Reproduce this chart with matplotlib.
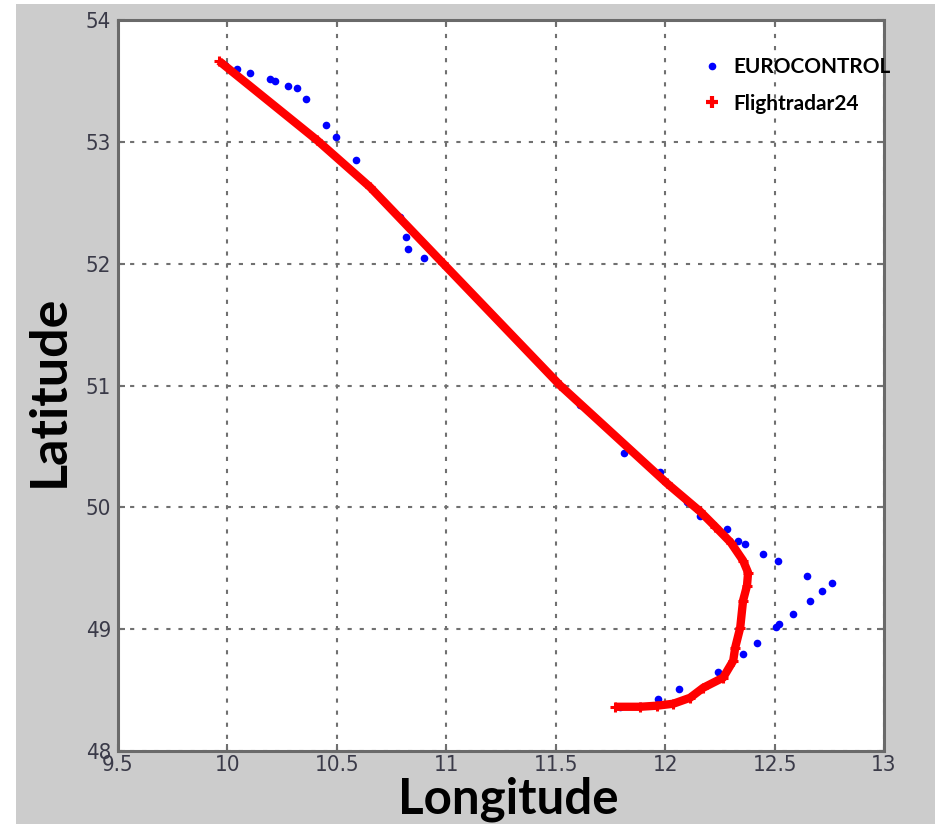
import matplotlib
matplotlib.use("Agg")
import matplotlib.pyplot as plt
from matplotlib.lines import Line2D
from matplotlib.patches import Rectangle

# ---- data ----
euro_lon = [9.99, 10.044, 10.103, 10.195, 10.218, 10.277, 10.318, 10.359, 10.451, 10.496,
            10.588, 10.789, 10.816, 10.825, 10.899, 11.611, 11.813, 11.977, 12.10, 12.16,
            12.283, 12.334, 12.366, 12.448, 12.516, 12.649, 12.763, 12.717, 12.663, 12.585,
            12.521, 12.507, 12.42, 12.356, 12.242, 12.064, 11.968, 11.886, 11.794]
euro_lat = [53.63, 53.597, 53.565, 53.515, 53.499, 53.458, 53.441, 53.351, 53.137, 53.039,
            52.850, 52.381, 52.217, 52.118, 52.044, 50.836, 50.45, 50.286, 50.04, 49.93,
            49.826, 49.727, 49.703, 49.62, 49.563, 49.44, 49.382, 49.316, 49.234, 49.127,
            49.045, 49.021, 48.889, 48.799, 48.651, 48.511, 48.429, 48.371, 48.363]

fr24_lon = [9.962, 10.409, 10.652, 10.985, 11.520, 12.009, 12.160, 12.230, 12.300, 12.356,
            12.379, 12.374, 12.356, 12.343, 12.320, 12.311, 12.265, 12.174, 12.114, 12.037,
            11.963, 11.886, 11.771]
fr24_lat = [53.663, 53.014, 52.628, 52.003, 51.001, 50.196, 49.966, 49.840, 49.711, 49.563,
            49.464, 49.357, 49.234, 49.012, 48.848, 48.741, 48.602, 48.519, 48.437, 48.388,
            48.372, 48.363, 48.363]

x_ticks = [9.5, 10, 10.5, 11, 11.5, 12, 12.5, 13]
x_ticklabels = ["9.5", "10", "10.5", "11", "11.5", "12", "12.5", "13"]
y_ticks = [48, 49, 50, 51, 52, 53, 54]
y_ticklabels = ["48", "49", "50", "51", "52", "53", "54"]

W, H = 935, 824
fig = plt.figure(figsize=(W / 100, H / 100), dpi=100, facecolor="#cccccc")
fig.patches.append(Rectangle((0, 0), 16 / W, 1, transform=fig.transFigure,
                             facecolor="white", edgecolor="none", zorder=-10))
fig.patches.append(Rectangle((0, 1 - 4 / H), 1, 4 / H, transform=fig.transFigure,
                             facecolor="white", edgecolor="none", zorder=-10))

ax = fig.add_axes([118 / W, 1 - 751 / H, (884 - 118) / W, (751 - 20) / H])
ax.set_facecolor("white")

ax.plot(euro_lon, euro_lat, ls="none", marker="o", ms=5.5, color="#0000ff",
        mec="none", zorder=3)
ax.plot(fr24_lon, fr24_lat, ls="-", lw=6, color="#ff0000", solid_joinstyle="round",
        solid_capstyle="butt", marker="+", ms=7, mew=2.2, zorder=4)

ax.set_xlim(9.5, 13)
ax.set_ylim(48, 54)
ax.set_xticks(x_ticks)
ax.set_xticklabels(x_ticklabels)
ax.set_yticks(y_ticks)
ax.set_yticklabels(y_ticklabels)

for lab in ax.get_xticklabels() + ax.get_yticklabels():
    lab.set_fontfamily(["Liberation Sans Narrow", "DejaVu Sans"])
    lab.set_fontstretch("condensed")
    lab.set_fontsize(16)
    lab.set_color("#3a3a48")

ax.tick_params(direction="in", length=5, width=1.5, color="#707070",
               top=True, right=True, pad=5)
ax.tick_params(axis="x", pad=3)
ax.grid(True, color="#707070", lw=1.5, linestyle=(0, (2, 3.8)))
ax.set_axisbelow(True)
for s in ax.spines.values():
    s.set_color("#6a6a6a")
    s.set_linewidth(2.2)

lab_font = dict(family=["Lato", "DejaVu Sans"], weight="bold", color="black")
fig.text(508 / W, 1 - 814 / H, "Longitude", ha="center", va="baseline", size=35.5, **lab_font)
fig.text(49 / W, 1 - 391 / H, "Latitude", ha="center", va="center", rotation=90,
         size=37.5, **lab_font)

handles = [Line2D([], [], ls="none", marker="o", ms=5.5, color="#0000ff", mec="none"),
           Line2D([], [], ls="none", marker="+", ms=9, mew=3, color="#ff0000")]
leg = ax.legend(handles, ["EUROCONTROL", "Flightradar24"], loc="upper left",
                bbox_to_anchor=(0.737, 0.975), frameon=False, handlelength=1.0,
                handletextpad=0.55, labelspacing=0.8,
                prop=dict(family=["Lato", "DejaVu Sans"], weight="bold", size=15))

fig.savefig("out.png", dpi=100, facecolor=fig.get_facecolor())
